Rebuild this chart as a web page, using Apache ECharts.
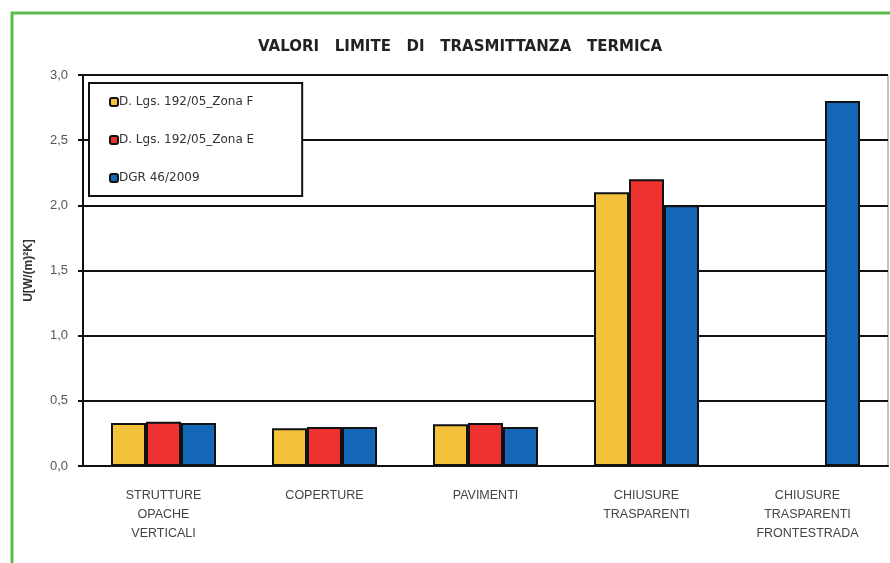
<!DOCTYPE html>
<html>
<head>
<meta charset="utf-8">
<script src="https://cdn.jsdelivr.net/npm/echarts@6/dist/echarts.min.js"></script>
<style>
  html, body { margin: 0; padding: 0; background: #fff; }
  #chart { width: 890px; height: 563px; }
</style>
</head>
<body>
<div id="chart"></div>
<script>
// categorie e valori
const categories = [
  'STRUTTURE\nOPACHE\nVERTICALI',
  'COPERTURE',
  'PAVIMENTI',
  'CHIUSURE\nTRASPARENTI',
  'CHIUSURE\nTRASPARENTI\nFRONTESTRADA'
]
const zonaF = [0.33, 0.29, 0.32, 2.1, 0]
const zonaE = [0.34, 0.30, 0.33, 2.2, 0]
const dgr = [0.33, 0.30, 0.30, 2.0, 2.8]
const seriesNames = ['D. Lgs. 192/05_Zona F', 'D. Lgs. 192/05_Zona E', 'DGR 46/2009']
const colors = ['#F4C13A', '#EE3230', '#1467B6']

const chart = echarts.init(document.getElementById('chart'))

const makeBar = (name, data, color) => {
  return {
    name: name,
    type: 'bar',
    data: data,
    barWidth: 35,
    barGap: '0%',
    itemStyle: {
      color: color,
      borderColor: '#111',
      borderWidth: 2
    }
  }
}

const option = {
  animation: false,
  title: {
    text: 'VALORI   LIMITE   DI   TRASMITTANZA   TERMICA',
    left: 253,
    top: 35,
    textStyle: {
      fontFamily: 'DejaVu Sans',
      fontSize: 15,
      fontWeight: 'bold',
      color: '#222'
    }
  },
  legend: {
    orient: 'vertical',
    left: 89,
    top: 83,
    padding: [13, 48, 12, 20],
    itemGap: 26,
    itemWidth: 8,
    itemHeight: 8,
    backgroundColor: '#fff',
    borderColor: '#111',
    borderWidth: 2,
    borderRadius: 0,
    textStyle: {
      fontFamily: 'DejaVu Sans',
      fontSize: 12,
      color: '#333',
      padding: [0, 0, 0, -4]
    },
    data: seriesNames
  },
  grid: {
    left: 83,
    top: 75,
    right: 2,
    bottom: 97,
    show: true,
    borderColor: '#888',
    borderWidth: 1
  },
  xAxis: {
    type: 'category',
    data: categories,
    axisLine: { lineStyle: { color: '#111', width: 2 } },
    axisTick: { length: 5, lineStyle: { color: '#111', width: 2 } },
    axisLabel: {
      margin: 20,
      fontFamily: 'Liberation Sans',
      fontSize: 12.5,
      lineHeight: 19,
      color: '#444'
    }
  },
  yAxis: {
    type: 'value',
    min: 0,
    max: 3,
    interval: 0.5,
    name: 'U[W/(m)²K]',
    nameLocation: 'middle',
    nameGap: 48,
    nameTextStyle: {
      fontFamily: 'Liberation Sans',
      fontSize: 12,
      fontWeight: 'bold',
      color: '#333'
    },
    axisLine: { show: true, lineStyle: { color: '#111', width: 2 } },
    axisTick: { show: true, length: 5, lineStyle: { color: '#111', width: 2 } },
    splitLine: { lineStyle: { color: '#111', width: 2 } },
    axisLabel: {
      margin: 15,
      fontFamily: 'Liberation Sans',
      fontSize: 13,
      color: '#555',
      formatter: (v) => v.toFixed(1).replace('.', ',')
    }
  },
  graphic: [
    {
      type: 'rect',
      shape: { x: 12, y: 13, width: 900, height: 600 },
      style: { fill: 'none', stroke: '#5DBB4C', lineWidth: 3 },
      silent: true
    }
  ],
  series: [
    makeBar(seriesNames[0], zonaF, colors[0]),
    makeBar(seriesNames[1], zonaE, colors[1]),
    makeBar(seriesNames[2], dgr, colors[2])
  ]
}

chart.setOption(option)
</script>
</body>
</html>
